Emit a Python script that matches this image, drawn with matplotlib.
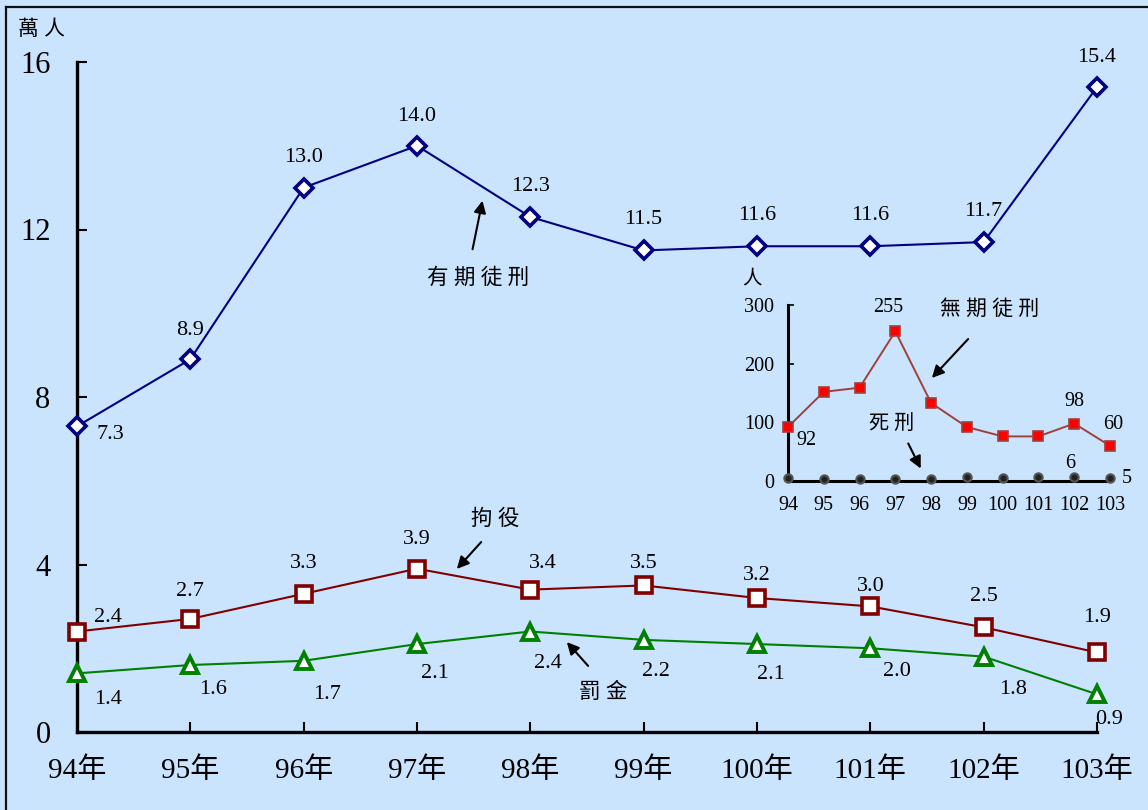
import numpy as np
import matplotlib
matplotlib.use('Agg')
import matplotlib.pyplot as plt
from matplotlib.lines import Line2D
from matplotlib.patches import FancyArrowPatch

plt.rcParams['font.family'] = ['Liberation Serif', 'Noto Sans CJK TC']

# data
years = [94, 95, 96, 97, 98, 99, 100, 101, 102, 103]
year_labels = ['94年', '95年', '96年', '97年', '98年', '99年', '100年', '101年', '102年', '103年']
prison = [7.3, 8.9, 13.0, 14.0, 12.3, 11.5, 11.6, 11.6, 11.7, 15.4]     # 有期徒刑 (萬人)
detention = [2.4, 2.7, 3.3, 3.9, 3.4, 3.5, 3.2, 3.0, 2.5, 1.9]        # 拘役
fine = [1.4, 1.6, 1.7, 2.1, 2.4, 2.2, 2.1, 2.0, 1.8, 0.9]             # 罰金
life = [92, 152, 159, 255, 133, 92, 76, 76, 98, 60]                    # 無期徒刑 (人)
death = [5, 3, 3, 3, 3, 6, 5, 7, 6, 5]                                 # 死刑 (人)

bg = '#CAE4FE'
W, H = 1148, 810
fig = plt.figure(figsize=(W / 100, H / 100), dpi=100, facecolor=bg)


def px(x, y):
    return x / W, 1 - y / H


# border (left / top only, picture is cropped)
fig.add_artist(Line2D([6 / W, 6 / W], [0, 1 - 7 / H], color='#111111', lw=1.6))
fig.add_artist(Line2D([6 / W, 1], [1 - 7 / H, 1 - 7 / H], color='#111111', lw=1.6))

ax = fig.add_axes([77 / W, 1 - 732 / H, (1097 - 77) / W, (732 - 62) / H])
ax.set_facecolor('none')
ax.set_xlim(94, 103)
ax.set_ylim(0, 16)
for s in ['top', 'right']:
    ax.spines[s].set_visible(False)
for s in ['left', 'bottom']:
    ax.spines[s].set_linewidth(2.4)
ax.set_yticks([0, 4, 8, 12, 16])
ax.set_xticks(years)
ax.set_xticklabels(year_labels)
ax.tick_params(direction='in', length=7, width=1.5, labelsize=21, pad=18)
ax.tick_params(axis='y', labelsize=22, pad=19)

ax.plot(years, prison, color='#000080', lw=1.5, marker='D', ms=9, mfc='white',
        mec='#000080', mew=2.6, clip_on=False, zorder=5)
ax.plot(years, detention, color='#800000', lw=1.5, marker='s', ms=11, mfc='white',
        mec='#800000', mew=2.6, clip_on=False, zorder=5)
ax.plot(years, fine, color='#008000', lw=1.5, marker='^', ms=12, mfc='white',
        mec='#008000', mew=2.8, clip_on=False, zorder=5)

# value labels (pixel offsets)
prison_off = [(24, -6), (0, 21), (0, 22), (0, 21), (0, 22), (0, 22), (0, 22), (0, 22), (0, 22), (0, 21)]
det_off = [(22, 10), (0, 20), (0, 22), (0, 21), (9, 19), (0, 16), (0, 16), (0, 14), (0, 22), (0, 25)]
fine_off = [(22, -19), (16, -18), (17, -24), (13, -21), (13, -23), (9, -23), (10, -22), (19, -17), (21, -24), (9, -18)]
for xs, ys, offs in [(years, prison, prison_off), (years, detention, det_off), (years, fine, fine_off)]:
    for x, y, o in zip(xs, ys, offs):
        ax.annotate(f'{y:.1f}', (x, y), xytext=o, textcoords='offset points',
                    ha='center', va='center', fontsize=16, zorder=6)

# series names with arrows
arrow = dict(arrowstyle='-|>', color='black', lw=1.5, mutation_scale=18)
fig.text(*px(478, 279), '有 期 徒 刑', ha='center', va='center', fontsize=15.5)
fig.add_artist(FancyArrowPatch(px(472, 252), px(483, 198), transform=fig.transFigure, **arrow))
fig.text(*px(495, 520), '拘 役', ha='center', va='center', fontsize=15.5)
fig.add_artist(FancyArrowPatch(px(483, 540), px(455, 571), transform=fig.transFigure, **arrow))
fig.text(*px(603, 693), '罰 金', ha='center', va='center', fontsize=15.5)
fig.add_artist(FancyArrowPatch(px(590, 668), px(565, 640), transform=fig.transFigure, **arrow))
fig.text(*px(42, 30), '萬 人', ha='center', va='center', fontsize=15)

# inset
ins = fig.add_axes([788 / W, 1 - 481 / H, (1110 - 788) / W, (481 - 305) / H])
ins.set_facecolor('none')
ins.set_xlim(94, 103)
ins.set_ylim(0, 300)
for s in ['top', 'right']:
    ins.spines[s].set_visible(False)
for s in ['left', 'bottom']:
    ins.spines[s].set_linewidth(2.2)
ins.set_yticks([0, 100, 200, 300])
ins.set_xticks(years)
ins.set_xticklabels([str(y) for y in years])
ins.tick_params(direction='in', length=4, width=1.2, labelsize=14.5, pad=10)
ins.tick_params(axis='x', length=0, pad=11)
ins.plot(years, life, color='#A0403C', lw=1.4, marker='s', ms=7, mfc='#FF0000',
         mec='#A0403C', mew=1.2, clip_on=False, zorder=5)
ins.plot(years, death, color='#222222', lw=0, marker='o', ms=6, mfc='#222222',
         mec='#555555', mew=1.5, clip_on=False, zorder=6)
life_lab = {94: (13, -10), 97: (-5, 17), 102: (0, 16), 103: (2, 15)}
for x, y in zip(years, life):
    if x in life_lab:
        ins.annotate(f'{y}', (x, y), xytext=life_lab[x], textcoords='offset points',
                     ha='center', va='center', fontsize=14.5)
death_lab = {102: (-3, 10), 103: (12, 0)}
for x, y in zip(years, death):
    if x in death_lab:
        ins.annotate(f'{y}', (x, y), xytext=death_lab[x], textcoords='offset points',
                     ha='center', va='center', fontsize=14.5)

fig.text(*px(752, 279), '人', ha='center', va='center', fontsize=14)
fig.text(*px(990, 310), '無 期 徒 刑', ha='center', va='center', fontsize=15)
fig.add_artist(FancyArrowPatch(px(970, 337), px(930, 380), transform=fig.transFigure, **arrow))
fig.text(*px(892, 424), '死 刑', ha='center', va='center', fontsize=14.5)
fig.add_artist(FancyArrowPatch(px(907, 441), px(922, 471), transform=fig.transFigure, **arrow))

fig.savefig('out.png', dpi=100, facecolor=bg)
